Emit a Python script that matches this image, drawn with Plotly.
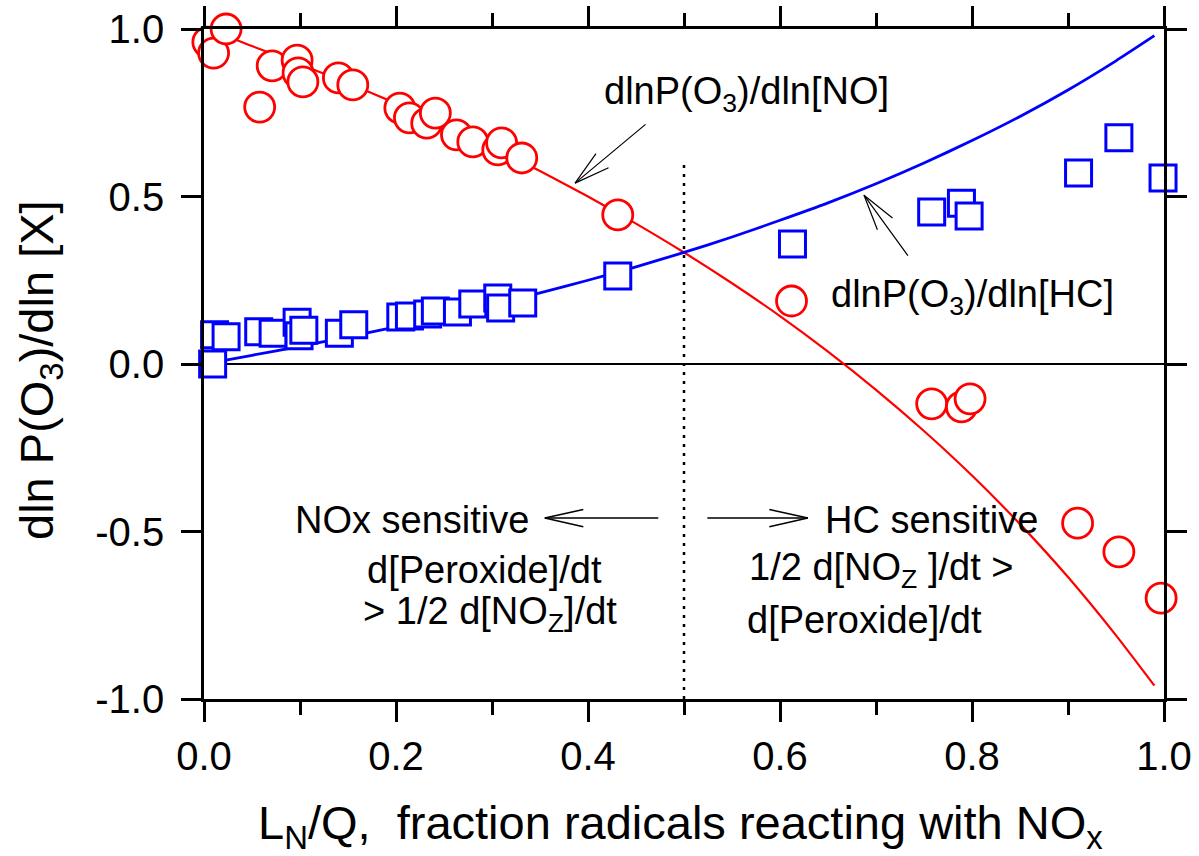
import plotly.graph_objects as go

# ---- data ----
no_x = [0.004, 0.010, 0.023, 0.058, 0.071, 0.097, 0.098, 0.103, 0.140, 0.155,
        0.204, 0.214, 0.232, 0.241, 0.263, 0.280, 0.306, 0.310, 0.331, 0.431,
        0.612, 0.758, 0.789, 0.798, 0.910, 0.953, 0.997]
no_y = [0.961, 0.928, 1.000, 0.767, 0.890, 0.907, 0.869, 0.842, 0.854, 0.833,
        0.764, 0.735, 0.719, 0.749, 0.684, 0.663, 0.639, 0.660, 0.615, 0.445,
        0.188, -0.119, -0.128, -0.104, -0.475, -0.561, -0.699]

hc_x = [0.009, 0.011, 0.023, 0.057, 0.072, 0.097, 0.099, 0.104, 0.141, 0.156,
        0.205, 0.214, 0.233, 0.241, 0.264, 0.280, 0.306, 0.309, 0.332, 0.431,
        0.613, 0.758, 0.789, 0.797, 0.911, 0.953, 0.999]
hc_y = [0.000, 0.087, 0.081, 0.096, 0.092, 0.125, 0.084, 0.101, 0.092, 0.117,
        0.140, 0.143, 0.149, 0.158, 0.155, 0.179, 0.197, 0.167, 0.182, 0.263,
        0.358, 0.454, 0.480, 0.442, 0.570, 0.675, 0.555]

curve_x = [0.01, 0.05, 0.10, 0.15, 0.20, 0.25, 0.30, 0.35, 0.40, 0.45, 0.50,
           0.55, 0.60, 0.65, 0.70, 0.75, 0.80, 0.85, 0.90, 0.95, 0.99]
curve_no = [0.995, 0.949, 0.895, 0.838, 0.778, 0.714, 0.647, 0.576, 0.500, 0.419, 0.333,
            0.241, 0.143, 0.037, -0.077, -0.200, -0.333, -0.478, -0.636, -0.810, -0.960]
curve_hc = [0.005, 0.026, 0.053, 0.081, 0.111, 0.143, 0.176, 0.212, 0.250, 0.290, 0.333,
            0.379, 0.429, 0.481, 0.538, 0.600, 0.667, 0.739, 0.818, 0.905, 0.980]

divider_x = 0.5
divider_y = [-1.0, 0.6]

x_tickvals = [0.0, 0.2, 0.4, 0.6, 0.8, 1.0]
x_ticktext = ["0.0", "0.2", "0.4", "0.6", "0.8", "1.0"]
y_tickvals = [-1.0, -0.5, 0.0, 0.5, 1.0]
y_ticktext = ["-1.0", "-0.5", "0.0", "0.5", "1.0"]

x_title = "L<sub>N</sub>/Q,\u00a0 fraction radicals reacting with NO<sub>x</sub>"
y_title = "dln P(O<sub>3</sub>)/dln [X]"

RED = "#ff0000"
BLUE = "#0000ff"
FONT = "Liberation Sans, Arial, Helvetica, sans-serif"

fig = go.Figure()

fig.add_trace(go.Scatter(x=curve_x, y=curve_no, mode="lines",
                         line=dict(color=RED, width=2.2, shape="spline", smoothing=0.6),
                         hoverinfo="skip", showlegend=False))
fig.add_trace(go.Scatter(x=curve_x, y=curve_hc, mode="lines",
                         line=dict(color=BLUE, width=2.8, shape="spline", smoothing=0.6),
                         hoverinfo="skip", showlegend=False))
fig.add_trace(go.Scatter(x=hc_x, y=hc_y, mode="markers", cliponaxis=False,
                         marker=dict(symbol="square", size=26, color="white",
                                     line=dict(color=BLUE, width=3)),
                         showlegend=False))
fig.add_trace(go.Scatter(x=no_x, y=no_y, mode="markers", cliponaxis=False,
                         marker=dict(symbol="circle", size=30, color="white",
                                     line=dict(color=RED, width=2.8)),
                         showlegend=False))

# dotted divider
fig.add_shape(type="line", x0=divider_x, x1=divider_x, y0=divider_y[0], y1=divider_y[1],
              xref="x", yref="y", line=dict(color="black", width=2.5, dash="3px,6px"))

ann = []
TXT = dict(family=FONT, size=38, color="black")


def arrow(tx, ty, dx, dy, barbs, width=1.2):
    ann.append(dict(x=tx, y=ty, xref="x", yref="y", ax=dx, ay=dy, text="",
                    showarrow=True, arrowhead=0, arrowwidth=width, arrowcolor="black",
                    standoff=0, startstandoff=0))
    for bx, by in barbs:
        ann.append(dict(x=tx, y=ty, xref="x", yref="y", ax=bx, ay=by, text="",
                        showarrow=True, arrowhead=0, arrowwidth=width, arrowcolor="black",
                        standoff=0, startstandoff=0))


ann.append(dict(x=0.565, y=0.807, xref="x", yref="y", text="dlnP(O<sub>3</sub>)/dln[NO]",
                showarrow=False, font=TXT, xanchor="center", yanchor="middle"))
arrow(0.3865, 0.540, 72, -60, [(22, -31), (35, -16)])

ann.append(dict(x=0.800, y=0.200, xref="x", yref="y", text="dlnP(O<sub>3</sub>)/dln[HC]",
                showarrow=False, font=TXT, xanchor="center", yanchor="middle"))
arrow(0.6875, 0.504, 45, 62, [(14, 36), (30, 24)])

ann.append(dict(x=0.217, y=-0.466, xref="x", yref="y", text="NOx sensitive",
                showarrow=False, font=TXT, xanchor="center", yanchor="middle"))
arrow(0.355, -0.460, 115, 0, [(40, -9), (40, 9)], width=1.5)
ann.append(dict(x=0.758, y=-0.466, xref="x", yref="y", text="HC sensitive",
                showarrow=False, font=TXT, xanchor="center", yanchor="middle"))
arrow(0.629, -0.460, -102, 0, [(-40, -9), (-40, 9)], width=1.5)

ann.append(dict(x=0.292, y=-0.615, xref="x", yref="y", text="d[Peroxide]/dt",
                showarrow=False, font=TXT, xanchor="center", yanchor="middle"))
ann.append(dict(x=0.298, y=-0.745, xref="x", yref="y", text="&gt; 1/2 d[NO<sub>Z</sub>]/dt",
                showarrow=False, font=TXT, xanchor="center", yanchor="middle"))
ann.append(dict(x=0.566, y=-0.615, xref="x", yref="y", text="1/2 d[NO<sub>Z</sub> ]/dt &gt;",
                showarrow=False, font=TXT, xanchor="left", yanchor="middle"))
ann.append(dict(x=0.564, y=-0.764, xref="x", yref="y", text="d[Peroxide]/dt",
                showarrow=False, font=TXT, xanchor="left", yanchor="middle"))

# axis titles as annotations for precise placement
TITLE = dict(family=FONT, size=47, color="black")
ann.append(dict(x=0.5, y=0, xref="paper", yref="paper", text=x_title, showarrow=False,
                font=TITLE, xanchor="center", yanchor="middle", xshift=-4, yshift=-127))
ann.append(dict(x=0, y=0.5, xref="paper", yref="paper", text=y_title, showarrow=False,
                font=TITLE, textangle=-90, xanchor="center", yanchor="middle",
                xshift=-164, yshift=-6))

axis_common = dict(showline=True, linecolor="black", linewidth=2.7, mirror="ticks",
                   ticks="outside", ticklen=20, tickwidth=2.7, tickcolor="black",
                   showgrid=False, automargin=False,
                   tickfont=dict(family=FONT, size=40, color="black"))

fig.update_layout(
    width=1199, height=856,
    margin=dict(l=204, r=35, t=29, b=157, autoexpand=False),
    paper_bgcolor="white", plot_bgcolor="white",
    showlegend=False,
    annotations=ann,
    xaxis=dict(range=[0, 1], tickvals=x_tickvals, ticktext=x_ticktext, zeroline=False,
               minor=dict(dtick=0.1, ticks="outside", ticklen=13, tickwidth=2.7,
                          tickcolor="black", showgrid=False),
               ticklabelstandoff=0,
               **axis_common),
    yaxis=dict(range=[-1, 1], tickvals=y_tickvals, ticktext=y_ticktext,
               zeroline=True, zerolinecolor="black", zerolinewidth=1.5,
               ticklabelstandoff=9,
               **axis_common),
)

fig.write_html("out.html", config={"displayModeBar": False},
               post_script="document.body.style.margin='0';document.body.style.overflow='hidden';")
